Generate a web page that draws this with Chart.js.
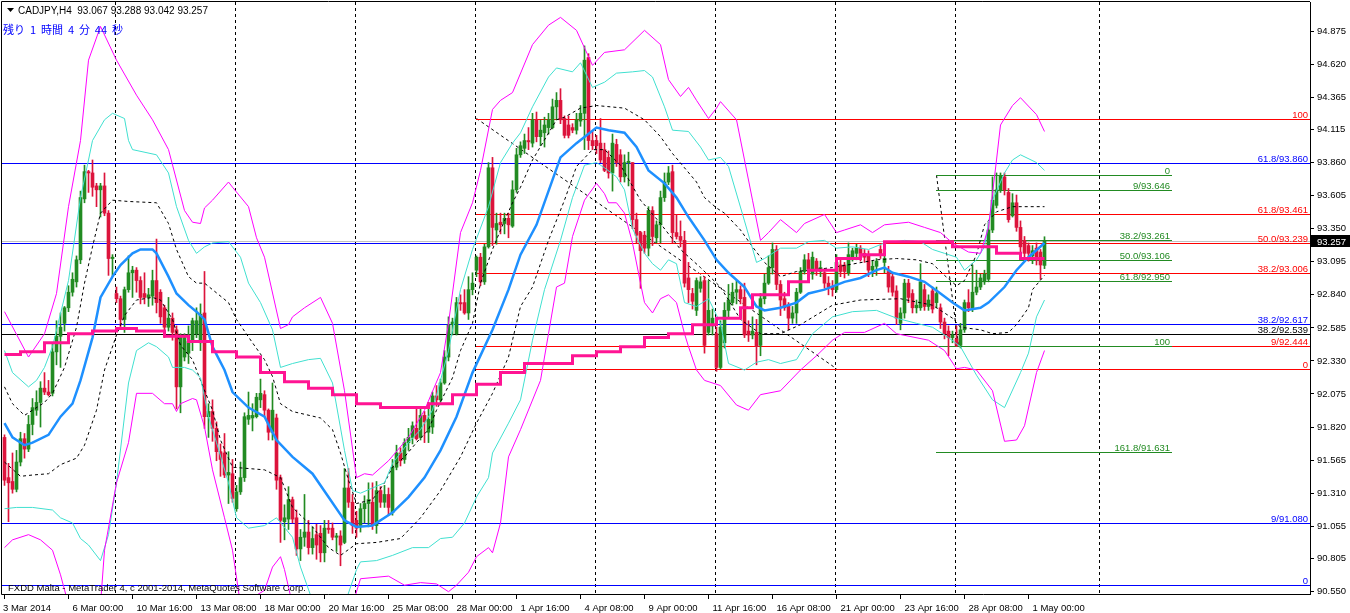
<!DOCTYPE html>
<html>
<head>
<meta charset="utf-8">
<script src="https://cdn.jsdelivr.net/npm/chart.js@4.4.1/dist/chart.umd.min.js"></script>
<style>
  html, body { margin: 0; padding: 0; background: #fff; overflow: hidden; }
  canvas { display: block; }
</style>
</head>
<body>
<canvas id="c" width="1350" height="613" style="width:1350px;height:613px"></canvas>
<script>
// CADJPY H4 candles, bar 0 = 3 Mar 2014 08:00 ... bar 260 = 1 May 2014 16:00
const opens = [
  91.74,91.43,91.40,91.34,91.55,91.73,91.65,91.84,91.95,92.01, 92.12,92.09,92.08,92.40,92.52,92.62,92.74,92.86,92.94,93.11,
  93.58,93.79,93.78,93.68,93.65,93.68,93.47,93.12,92.85,92.81, 92.65,92.88,93.01,93.03,92.95,92.85,92.82,92.83,92.95,92.86,
  92.74,92.59,92.66,92.57,92.13,92.36,92.39,92.48,92.54,92.47, 92.70,91.90,91.94,91.81,91.63,91.62,91.45,91.46,91.19,91.32,
  91.43,91.88,91.89,91.90,92.03,92.07,91.95,91.78,91.89,91.43, 91.09,91.11,91.26,91.12,90.88,90.97,91.01,90.89,90.99,91.00,
  90.85,91.04,91.04,90.97,90.98,90.93,91.35,91.24,91.10,91.06, 91.19,91.23,91.24,91.06,91.33,91.24,91.30,91.16,91.51,91.62,
  91.57,91.70,91.74,91.81,91.74,91.91,91.78,91.82,92.06,92.03, 92.16,92.36,92.61,92.54,92.78,92.78,92.70,92.88,93.03,93.13,
  92.94,93.21,93.82,93.34,93.40,93.39,93.43,93.37,93.65,93.92, 93.97,94.03,94.01,94.19,94.06,94.09,94.13,94.13,94.29,94.34,
  94.20,94.15,94.13,94.11,94.18,94.24,94.67,94.03,94.03,94.01, 93.96,93.90,93.78,94.00,93.92,93.75,93.86,93.86,93.42,93.32,
  93.30,93.20,93.49,93.28,93.38,93.59,93.71,93.79,93.32,93.29, 93.26,92.97,92.85,92.72,92.89,92.95,92.55,92.60,92.54,92.28,
  92.47,92.72,92.78,92.86,92.88,92.82,92.56,92.53,92.55,92.45, 92.81,92.93,93.05,93.19,92.92,92.81,92.76,92.66,92.70,92.86,
  93.02,93.11,93.00,93.10,93.02,93.01,92.93,92.90,92.88,93.07, 93.07,93.01,93.13,93.16,93.20,93.16,93.15,93.03,93.06,93.19,
  93.09,93.02,92.98,92.87,92.62,92.70,92.93,92.85,92.74,92.74, 92.88,92.75,92.87,92.78,92.74,92.63,92.56,92.51,92.50,92.45,
  92.57,92.78,92.74,92.86,92.90,92.94,92.96,93.34,93.53,93.65, 93.75,93.63,93.45,93.55,93.36,93.26,93.22,93.14,93.20,93.17,
  93.067
];
const highs = [
  91.76,91.54,91.62,91.64,91.78,91.77,91.91,92.04,92.10,92.17, 92.24,92.18,92.47,92.64,92.70,92.75,92.91,93.01,93.14,93.64,
  93.84,93.80,93.88,93.70,93.70,93.78,93.49,93.15,92.90,92.83, 92.90,93.14,93.06,93.05,92.98,93.01,92.89,93.03,93.27,92.88,
  92.76,92.82,92.70,92.60,92.54,92.54,92.60,92.66,92.74,92.77, 93.02,92.00,92.03,91.86,91.69,91.77,91.63,91.57,91.37,91.55,
  91.93,92.09,92.00,92.08,92.19,92.10,91.96,92.16,91.92,91.45, 91.22,91.36,91.28,91.18,91.03,91.30,91.10,91.05,91.07,91.06,
  91.10,91.10,91.08,91.00,91.02,91.50,91.50,91.30,91.17,91.23, 91.29,91.39,91.39,91.40,91.36,91.37,91.35,91.57,91.68,91.66,
  91.73,91.81,91.86,91.98,91.98,91.94,92.01,92.09,92.14,92.19, 92.41,92.67,92.66,92.82,92.84,92.88,92.98,93.01,93.14,93.16,
  93.23,93.86,93.90,93.47,93.47,93.47,93.47,93.72,93.97,94.02, 94.08,94.13,94.24,94.25,94.19,94.21,94.24,94.35,94.40,94.43,
  94.22,94.22,94.16,94.24,94.30,94.76,94.70,94.10,94.07,94.20, 94.01,93.95,94.08,94.04,93.96,93.92,93.94,93.86,93.47,93.33,
  93.33,93.52,93.52,93.41,93.64,93.78,93.83,93.84,93.46,93.41, 93.33,93.09,92.89,92.97,92.98,92.98,92.95,92.73,92.59,92.64,
  92.78,92.92,92.93,92.95,92.91,92.93,92.64,92.67,92.65,92.85, 93.00,93.14,93.24,93.22,92.95,92.86,92.78,92.75,92.89,93.05,
  93.15,93.16,93.17,93.12,93.10,93.04,92.98,92.95,93.15,93.12, 93.09,93.24,93.20,93.23,93.22,93.19,93.18,93.10,93.12,93.22,
  93.15,93.06,93.01,92.91,92.74,92.96,92.96,92.88,92.80,93.08, 92.92,92.84,92.90,92.90,92.77,92.66,92.60,92.56,92.60,92.62,
  92.80,92.88,93.07,93.03,93.00,93.03,93.40,93.75,93.78,93.78, 93.78,93.66,93.62,93.61,93.41,93.29,93.24,93.22,93.24,93.19,
  93.288
];
const lows = [
  91.37,91.09,91.31,91.32,91.52,91.58,91.63,91.76,91.91,91.82, 92.07,92.06,92.06,92.30,92.28,92.56,92.71,92.83,92.90,93.08,
  93.55,93.63,93.60,93.52,93.44,93.45,92.99,92.98,92.78,92.59, 92.55,92.86,92.82,92.86,92.77,92.77,92.75,92.76,92.70,92.62,
  92.51,92.56,92.49,91.96,91.93,92.33,92.31,92.41,92.51,92.41, 91.81,91.74,91.71,91.56,91.44,91.43,91.23,91.24,91.17,91.30,
  91.40,91.84,91.79,91.89,91.97,91.90,91.72,91.72,91.34,90.93, 90.95,91.03,91.08,90.83,90.79,90.90,90.84,90.84,90.80,90.78,
  90.78,91.00,90.95,90.86,90.75,90.92,91.20,91.00,90.97,91.01, 91.08,91.05,91.03,91.00,91.20,91.20,91.14,91.14,91.49,91.52,
  91.54,91.64,91.69,91.72,91.72,91.70,91.70,91.77,91.98,92.01, 92.15,92.33,92.53,92.53,92.72,92.69,92.65,92.84,92.98,92.91,
  92.92,93.20,93.22,93.23,93.31,93.31,93.28,93.36,93.63,93.90, 93.93,93.96,93.98,94.02,93.99,93.98,94.08,94.12,94.19,94.16,
  94.05,94.05,94.09,94.08,94.14,93.96,93.96,93.96,93.93,93.86, 93.79,93.74,93.64,93.83,93.71,93.71,93.68,93.35,93.24,92.89,
  93.16,93.14,93.22,93.24,93.24,93.56,93.69,93.24,93.27,93.21, 92.90,92.78,92.73,92.68,92.86,92.39,92.53,92.53,92.25,92.27,
  92.43,92.67,92.76,92.77,92.77,92.51,92.48,92.50,92.30,92.37, 92.77,92.92,93.00,92.88,92.68,92.72,92.57,92.62,92.62,92.85,
  93.00,93.00,92.96,92.99,92.98,92.89,92.84,92.83,92.86,92.98, 92.97,92.99,93.10,93.11,93.10,93.09,92.98,92.98,92.99,93.12,
  93.01,92.86,92.83,92.61,92.57,92.66,92.78,92.70,92.70,92.72, 92.72,92.72,92.70,92.74,92.58,92.50,92.37,92.47,92.44,92.43,
  92.55,92.71,92.71,92.84,92.88,92.92,92.94,93.32,93.51,93.63, 93.61,93.40,93.44,93.33,93.17,93.13,93.10,93.08,93.07,92.96,
  93.042
];
const closes = [
  91.41,91.39,91.34,91.55,91.73,91.65,91.84,91.97,92.01,92.12, 92.09,92.07,92.40,92.52,92.59,92.74,92.86,92.96,93.11,93.59,
  93.79,93.78,93.67,93.65,93.68,93.47,93.12,93.13,92.81,92.65, 92.88,93.01,93.03,92.95,92.82,92.82,92.84,92.95,92.78,92.67,
  92.59,92.66,92.55,92.13,92.52,92.51,92.48,92.64,92.64,92.69, 91.90,91.94,91.81,91.63,91.57,91.45,91.47,91.27,91.32,91.43,
  91.90,91.91,91.91,92.05,92.08,91.95,91.78,91.95,91.41,91.10, 91.12,91.26,91.11,90.88,90.97,91.01,90.89,90.96,90.91,90.85,
  91.04,91.03,90.97,90.98,90.91,91.35,91.24,91.06,91.04,91.19, 91.23,91.26,91.06,91.33,91.24,91.30,91.20,91.51,91.62,91.56,
  91.70,91.74,91.83,91.73,91.91,91.86,91.88,92.06,92.03,92.16, 92.36,92.61,92.63,92.78,92.77,92.70,92.88,92.93,93.13,92.94,
  93.21,93.82,93.36,93.39,93.38,93.43,93.38,93.65,93.92,93.99, 94.03,94.02,94.19,94.06,94.11,94.15,94.19,94.29,94.34,94.19,
  94.07,94.07,94.11,94.19,94.24,94.65,94.03,93.99,93.99,93.88, 93.80,93.78,94.01,93.86,93.75,93.86,93.87,93.42,93.30,93.18,
  93.20,93.49,93.29,93.38,93.59,93.71,93.78,93.32,93.29,93.26, 92.93,92.88,92.79,92.95,92.94,92.45,92.72,92.66,92.28,92.59,
  92.72,92.80,92.86,92.88,92.81,92.53,92.53,92.56,92.44,92.81, 92.93,93.05,93.19,92.92,92.80,92.74,92.66,92.70,92.86,93.02,
  93.11,93.04,93.13,93.03,93.05,92.93,92.90,92.88,93.09,93.02, 93.02,93.15,93.18,93.20,93.13,93.13,93.03,93.06,93.10,93.15,
  93.12,92.90,92.86,92.66,92.70,92.93,92.82,92.74,92.76,92.94, 92.75,92.80,92.73,92.85,92.63,92.54,92.51,92.53,92.45,92.57,
  92.78,92.74,92.86,92.90,92.97,93.00,93.34,93.57,93.65,93.76, 93.65,93.42,93.55,93.36,93.21,93.16,93.16,93.18,93.11,93.07,
  93.257
];

// time axis
const xLabelBars = [0,16,32,48,64,80,96,112,128,144,160,176,192,208,224,240,256];
const xLabels = ['3 Mar 2014','6 Mar 00:00','10 Mar 16:00','13 Mar 08:00','18 Mar 00:00','20 Mar 16:00',
  '25 Mar 08:00','28 Mar 00:00','1 Apr 16:00','4 Apr 08:00','9 Apr 00:00','11 Apr 16:00',
  '16 Apr 08:00','21 Apr 00:00','23 Apr 16:00','28 Apr 08:00','1 May 00:00'];
const separatorBars = [28,58,88,118,148,178,208,238,274];
const yTickVals = [94.875,94.620,94.365,94.115,93.860,93.605,93.350,93.095,92.840,92.585,
  92.330,92.075,91.820,91.565,91.310,91.055,90.805,90.550];

// bollinger bands (key points: bar index / price)
const magUpBars = [0,6,10,13,16,19,21,24,28,33,37,41,45,47,49,50,52,56,57,61,63,65,69,71,72,75,79,82,85,88,90,92,96,101,105,109,111,114,117,119,122,124,127,132,136,139,143,147,150,155,160,164,166,169,171,173,176,178,179,183,185,187,189,191,194,198,200,205,208,210,214,217,220,226,230,234,237,241,244,246,248,249,252,254,258,260];
const magUpVals = [92.71,92.36,92.54,92.85,93.52,94.03,94.65,94.91,94.65,94.38,94.19,93.96,93.49,93.40,93.39,93.51,93.57,93.71,93.67,93.52,93.28,93.13,92.58,92.61,92.67,92.74,92.82,92.62,92.10,91.43,91.46,91.45,91.56,91.74,91.95,92.24,92.62,93.32,93.55,93.80,94.27,94.34,94.40,94.77,94.92,94.98,94.88,94.61,94.71,94.73,94.88,94.77,94.50,94.37,94.44,94.34,94.20,94.28,94.33,94.19,93.88,93.57,93.26,93.32,93.42,93.32,93.39,93.46,93.32,93.34,93.38,93.32,93.38,93.40,93.36,93.32,93.24,93.17,93.16,93.36,93.88,94.15,94.30,94.36,94.23,94.10];
const magLoBars = [0,2,6,9,12,14,16,24,25,28,31,33,37,40,42,43,44,47,48,50,52,55,57,59,65,67,69,70,72,87,89,96,100,104,108,111,113,116,118,121,122,124,126,129,134,136,138,140,142,145,148,150,151,153,155,157,159,160,162,164,166,168,170,171,173,175,179,183,186,189,194,199,203,207,210,215,220,223,231,235,238,240,243,247,250,253,255,258,260];
const magLoVals = [90.89,90.95,90.99,90.95,90.87,90.68,90.45,90.45,90.87,91.39,91.70,92.08,92.08,92.00,92.00,91.94,92.00,92.04,92.03,91.82,91.49,91.12,90.87,90.45,90.56,90.74,90.82,90.72,90.45,90.45,90.65,90.67,90.60,90.62,90.61,90.55,90.60,90.70,90.82,90.89,90.85,91.08,91.59,91.80,92.18,92.54,92.90,92.93,93.29,93.57,93.70,93.62,93.55,93.55,93.47,93.24,92.93,92.78,92.70,92.81,92.84,92.78,92.54,92.44,92.26,92.18,92.14,91.99,91.95,92.07,92.10,92.26,92.37,92.49,92.55,92.55,92.62,92.54,92.49,92.41,92.27,92.28,92.26,92.10,91.71,91.72,91.83,92.24,92.41];
const cyanUpBars = [0,2,6,8,10,12,16,19,21,22,25,27,30,31,32,38,41,43,46,48,50,52,56,59,61,64,67,69,72,76,79,82,85,87,89,92,95,97,101,104,107,111,114,117,121,124,127,129,132,136,138,142,144,147,150,153,157,160,162,165,167,171,174,176,179,181,185,188,190,194,198,201,205,208,212,216,220,225,229,232,235,238,240,243,245,247,250,252,254,258,260];
const cyanUpVals = [92.41,92.24,92.13,92.18,92.28,92.44,92.95,93.59,93.88,94.03,94.19,94.24,94.20,94.03,93.96,93.92,93.78,93.52,93.26,93.16,93.21,93.24,93.25,93.13,92.93,92.78,92.57,92.28,92.31,92.34,92.35,92.16,91.64,91.33,91.31,91.35,91.39,91.54,91.70,91.80,91.95,92.41,92.88,93.19,93.52,93.86,94.01,94.09,94.29,94.52,94.59,94.56,94.63,94.44,94.48,94.55,94.56,94.57,94.52,94.29,94.11,94.10,93.98,93.88,93.90,93.83,93.41,93.09,93.12,93.20,93.20,93.25,93.26,93.20,93.21,93.19,93.24,93.26,93.25,93.19,93.16,93.13,93.03,93.11,93.21,93.57,93.78,93.88,93.92,93.86,93.80];
const cyanLoBars = [0,3,7,12,14,17,19,21,24,26,28,31,33,36,38,41,42,45,47,49,51,53,56,58,61,65,68,72,74,77,85,88,89,93,97,102,106,109,112,115,118,121,122,126,129,132,135,139,142,145,148,150,153,155,157,160,162,164,166,168,170,173,176,179,181,185,188,191,194,198,202,207,212,218,223,228,232,236,239,243,247,250,254,256,258,260];
const cyanLoVals = [91.19,91.20,91.20,91.18,91.12,91.08,90.96,90.91,90.79,90.99,91.39,92.16,92.41,92.47,92.44,92.36,92.28,92.28,92.26,92.20,91.90,91.70,91.39,91.12,91.04,91.06,91.12,90.97,90.74,90.48,90.45,90.72,90.78,90.79,90.83,90.89,90.89,90.96,90.97,91.08,91.28,91.43,91.62,91.85,92.03,92.49,92.88,93.26,93.59,93.84,93.86,93.82,93.75,93.65,93.35,93.16,93.08,93.03,93.11,93.08,92.78,92.75,92.81,92.62,92.31,92.26,92.32,92.34,92.31,92.34,92.54,92.67,92.71,92.72,92.66,92.62,92.59,92.51,92.44,92.22,92.03,91.97,92.24,92.39,92.67,92.80];
const dashUpBars = [0,2,5,7,10,12,15,18,20,22,24,27,31,38,41,43,46,48,50,52,56,58,62,65,67,69,72,79,82,84,86,88,92,95,97,100,103,106,108,112,114,117,119,122,124,127,129,132,138,140,144,148,155,160,164,167,170,173,175,178,180,184,187,190,194,198,207,218,223,228,232,235,238,240,243,245,248,252,260];
const dashUpVals = [92.13,92.00,91.91,91.95,92.01,92.08,92.28,92.59,92.93,93.21,93.47,93.57,93.56,93.55,93.39,93.19,92.98,92.93,92.93,92.88,92.78,92.65,92.47,92.34,92.21,92.00,91.94,91.89,91.80,91.62,91.41,91.23,91.26,91.39,91.51,91.59,91.70,91.80,91.95,92.20,92.41,92.62,92.93,93.19,93.34,93.55,93.67,93.88,94.19,94.21,94.28,94.30,94.28,94.19,94.06,93.93,93.82,93.71,93.59,93.51,93.47,93.34,93.21,93.09,92.98,93.02,93.05,93.11,93.12,93.11,93.08,92.99,92.91,92.95,93.15,93.38,93.48,93.52,93.52];
const dashLoBars = [0,4,7,11,14,18,20,23,25,28,30,33,37,39,42,44,47,49,52,54,57,61,65,69,72,77,81,84,88,93,99,104,109,114,118,122,126,129,132,136,140,143,147,150,154,159,164,169,174,179,184,189,194,199,207,214,224,232,237,239,244,247,251,253,256,257,260];
const dashLoVals = [91.55,91.44,91.45,91.46,91.53,91.58,91.68,91.95,92.26,92.53,92.68,92.80,92.82,92.80,92.65,92.45,92.34,92.18,91.95,91.72,91.51,91.50,91.49,91.43,91.20,91.05,90.89,90.83,90.92,90.93,90.96,91.12,91.33,91.59,91.85,92.08,92.36,92.75,92.90,93.26,93.57,93.83,93.96,93.96,93.84,93.57,93.39,93.19,93.05,92.90,92.65,92.54,92.54,92.61,92.76,92.80,92.81,92.76,92.66,92.59,92.57,92.54,92.55,92.61,92.74,92.88,92.99];
// moving average and step line
const maBars = [0,2,5,7,11,14,17,19,22,24,27,29,32,34,37,38,41,43,46,48,50,52,55,57,61,65,68,72,77,81,85,88,92,97,101,105,109,113,117,122,126,129,133,139,143,148,151,155,158,161,165,168,171,175,178,181,185,188,190,194,198,201,205,210,214,218,220,222,226,230,234,237,240,244,246,250,253,256,260];
const maVals = [91.85,91.74,91.68,91.70,91.76,91.90,92.00,92.18,92.51,92.82,92.98,93.07,93.16,93.19,93.19,93.16,92.98,92.85,92.76,92.71,92.65,92.44,92.26,92.09,91.97,91.90,91.72,91.59,91.46,91.28,91.10,91.05,91.06,91.16,91.28,91.43,91.64,91.90,92.24,92.57,92.88,93.15,93.38,93.90,94.01,94.13,94.11,94.09,93.98,93.80,93.70,93.59,93.44,93.26,93.11,93.01,92.90,92.75,92.72,92.74,92.78,92.85,92.88,92.94,92.97,93.03,93.05,93.01,92.98,92.94,92.85,92.78,92.72,92.74,92.78,92.90,93.03,93.13,93.24];
const stepBars = [0,4,10,16,22,28,33,40,46,52,58,64,70,76,82,88,94,106,112,118,124,130,142,148,154,160,166,172,178,184,187,196,201,208,214,220,237,248,254,260];
const stepVals = [92.38,92.40,92.47,92.54,92.56,92.58,92.56,92.52,92.48,92.40,92.36,92.24,92.17,92.12,92.07,92.00,91.97,92.00,92.07,92.15,92.24,92.31,92.37,92.40,92.44,92.51,92.54,92.61,92.66,92.74,92.84,92.94,93.03,93.12,93.15,93.25,93.21,93.16,93.12,93.12];

// fibonacci objects
const blueFibVals = [93.860, 93.239, 92.617, 91.080, 90.605];
const blueFibText = ['61.8/93.860', '', '38.2/92.617', '9/91.080', '0'];
const blackFibVals = [92.539];
const blackFibText = ['38.2/92.539'];
const redFibVals = [94.20, 93.461, 93.239, 93.006, 92.444, 92.27];
const redFibText = ['100', '61.8/93.461', '50.0/93.239', '38.2/93.006', '9/92.444', '0'];
const redFibBars = [118, 208];          // anchor bars (trend line from 100 to 0)
const greenFibVals = [93.763, 93.646, 93.261, 93.106, 92.950, 92.449, 91.631];
const greenFibText = ['0', '9/93.646', '38.2/93.261', '50.0/93.106', '61.8/92.950', '100', '161.8/91.631'];
const greenFibBars = [233, 238.5, 292];  // anchors and end of level lines
const bidPrice = 93.257;

const GREEN = '#228b22', RED = '#dc143c';
const FONT = '"Liberation Sans", Arial, sans-serif';

const idx = closes.map((_, i) => i);
const candleColors = idx.map(i => closes[i] >= opens[i] ? GREEN : RED);
const pts = (bars, vals) => bars.map((b, i) => ({ x: b, y: vals[i] }));
const lineDs = (bars, vals, color, width, extra) => Object.assign({
  type: 'line', data: pts(bars, vals), borderColor: color, borderWidth: width,
  pointRadius: 0, fill: false, tension: 0, order: 2
}, extra || {});

function seg(ctx, x1, y1, x2, y2) {
  ctx.beginPath(); ctx.moveTo(x1, y1); ctx.lineTo(x2, y2); ctx.stroke();
}

const mt4 = {
  id: 'mt4',
  beforeDatasetsDraw(chart) {
    const { ctx, chartArea: a, scales: { x, y } } = chart;
    const X = v => x.getPixelForValue(v);
    const Y = v => Math.round(y.getPixelForValue(v)) + 0.5;
    ctx.save();
    ctx.beginPath(); ctx.rect(a.left, a.top, a.right - a.left, a.bottom - a.top); ctx.clip();
    ctx.lineWidth = 1;

    // period separators
    ctx.strokeStyle = '#000';
    ctx.setLineDash([3, 3]);
    separatorBars.forEach(b => { const px = Math.floor(X(b)) - 0.5; seg(ctx, px, a.top, px, a.bottom); });
    // fib trend lines
    seg(ctx, X(redFibBars[0]), y.getPixelForValue(redFibVals[0]), X(redFibBars[1]), y.getPixelForValue(redFibVals[5]));
    seg(ctx, X(greenFibBars[0]), y.getPixelForValue(greenFibVals[0]), X(greenFibBars[1]), y.getPixelForValue(greenFibVals[5]));
    ctx.setLineDash([]);

    // bid line
    ctx.strokeStyle = '#c0c0c0';
    seg(ctx, a.left, Y(bidPrice), a.right, Y(bidPrice));

    ctx.font = '9.5px ' + FONT;
    ctx.textAlign = 'right';
    ctx.textBaseline = 'alphabetic';
    const levels = (vals, texts, color, x1, x2) => {
      ctx.strokeStyle = color; ctx.fillStyle = color;
      vals.forEach((v, k) => {
        const py = Y(v);
        seg(ctx, x1, py, x2, py);
        if (texts[k]) ctx.fillText(texts[k], x2 - 2, py - 2);
      });
    };
    levels(blueFibVals, blueFibText, '#0000ff', a.left, a.right);
    levels(blackFibVals, blackFibText, '#000000', a.left, a.right);
    levels(redFibVals, redFibText, '#ff0000', Math.floor(X(redFibBars[0])), a.right);
    levels(greenFibVals, greenFibText, GREEN, Math.floor(X(greenFibBars[0])), Math.floor(X(greenFibBars[2])));
    ctx.restore();
  },
  afterDraw(chart) {
    const { ctx, chartArea: a, scales: { x, y } } = chart;
    ctx.save();
    ctx.strokeStyle = '#000'; ctx.lineWidth = 1;
    // frame
    ctx.beginPath();
    ctx.moveTo(1.5, a.bottom + 0.5); ctx.lineTo(1.5, 1.5); ctx.lineTo(a.right, 1.5);
    ctx.moveTo(1.5, a.bottom + 0.5); ctx.lineTo(a.right + 0.5, a.bottom + 0.5);
    ctx.stroke();

    // time labels
    ctx.font = '9.5px ' + FONT;
    ctx.fillStyle = '#000';
    ctx.textAlign = 'left';
    ctx.textBaseline = 'alphabetic';
    xLabelBars.forEach((b, k) => {
      const px = Math.floor(x.getPixelForValue(b)) + 0.5;
      seg(ctx, px, a.bottom, px, a.bottom + 5);
      ctx.fillText(xLabels[k], k === 0 ? 3 : px + 4, 611);
    });

    // bid price box on the axis
    const py = Math.round(y.getPixelForValue(bidPrice));
    ctx.fillStyle = '#000';
    ctx.fillRect(a.right + 1, py - 6, 39, 12);
    ctx.fillStyle = '#fff';
    ctx.fillText(bidPrice.toFixed(3), a.right + 7, py + 4);

    // header
    ctx.fillStyle = '#000';
    ctx.beginPath(); ctx.moveTo(7, 8); ctx.lineTo(14, 8); ctx.lineTo(10.5, 12); ctx.closePath(); ctx.fill();
    ctx.font = '10px ' + FONT;
    ctx.fillText('CADJPY,H4  ' + [opens[260], highs[260], lows[260], closes[260]].map(v => v.toFixed(3)).join(' '), 18, 14);
    ctx.fillStyle = '#0000ff';
    ctx.font = '11px "Noto Sans CJK JP", sans-serif';
    ctx.fillText('残り  1  時間  4  分  44  秒', 3, 34);

    ctx.fillStyle = '#000';
    ctx.font = '9.5px ' + FONT;
    ctx.fillText('FXDD Malta - MetaTrader 4, c 2001-2014, MetaQuotes Software Corp.', 8, 591);
    ctx.restore();
  }
};

new Chart(document.getElementById('c'), {
  type: 'bar',
  data: {
    datasets: [
      lineDs(stepBars, stepVals, '#ff1493', 3, { stepped: 'before', order: 0 }),
      lineDs(maBars, maVals, '#1e90ff', 2.5, { order: 1 }),
      lineDs(magUpBars, magUpVals, '#ff00ff', 1),
      lineDs(magLoBars, magLoVals, '#ff00ff', 1),
      lineDs(cyanUpBars, cyanUpVals, '#40e0d0', 1),
      lineDs(cyanLoBars, cyanLoVals, '#40e0d0', 1),
      lineDs(dashUpBars, dashUpVals, '#000000', 1, { borderDash: [3, 3] }),
      lineDs(dashLoBars, dashLoVals, '#000000', 1, { borderDash: [3, 3] }),
      {
        type: 'bar', order: 9, grouped: false, barThickness: 3, minBarLength: 1,
        data: idx.map(i => ({ x: i, y: [opens[i], closes[i]] })),
        backgroundColor: candleColors, borderWidth: 0
      },
      {
        type: 'bar', order: 10, grouped: false, barThickness: 1, minBarLength: 1,
        data: idx.map(i => ({ x: i, y: [lows[i], highs[i]] })),
        backgroundColor: candleColors, borderWidth: 0
      }
    ]
  },
  options: {
    responsive: false,
    animation: false,
    events: [],
    layout: { padding: { left: 2, top: 2, right: 0, bottom: 19 } },
    plugins: { legend: { display: false }, tooltip: { enabled: false } },
    scales: {
      x: { type: 'linear', display: false, offset: false, min: -0.625, max: 326.375 },
      y: {
        type: 'linear', position: 'right', min: 90.5322, max: 95.0987, beginAtZero: false,
        afterFit: s => { s.width = 40; s.paddingTop = 0; s.paddingBottom = 0; },
        afterBuildTicks: s => { s.ticks = yTickVals.map(v => ({ value: v })); },
        ticks: { callback: v => v.toFixed(3), color: '#000', font: { size: 9.5, family: FONT }, padding: 3, autoSkip: false },
        grid: { drawOnChartArea: false, drawTicks: true, tickLength: 4, color: '#000' },
        border: { display: true, color: '#000' }
      }
    }
  },
  plugins: [mt4]
});
</script>
</body>
</html>
